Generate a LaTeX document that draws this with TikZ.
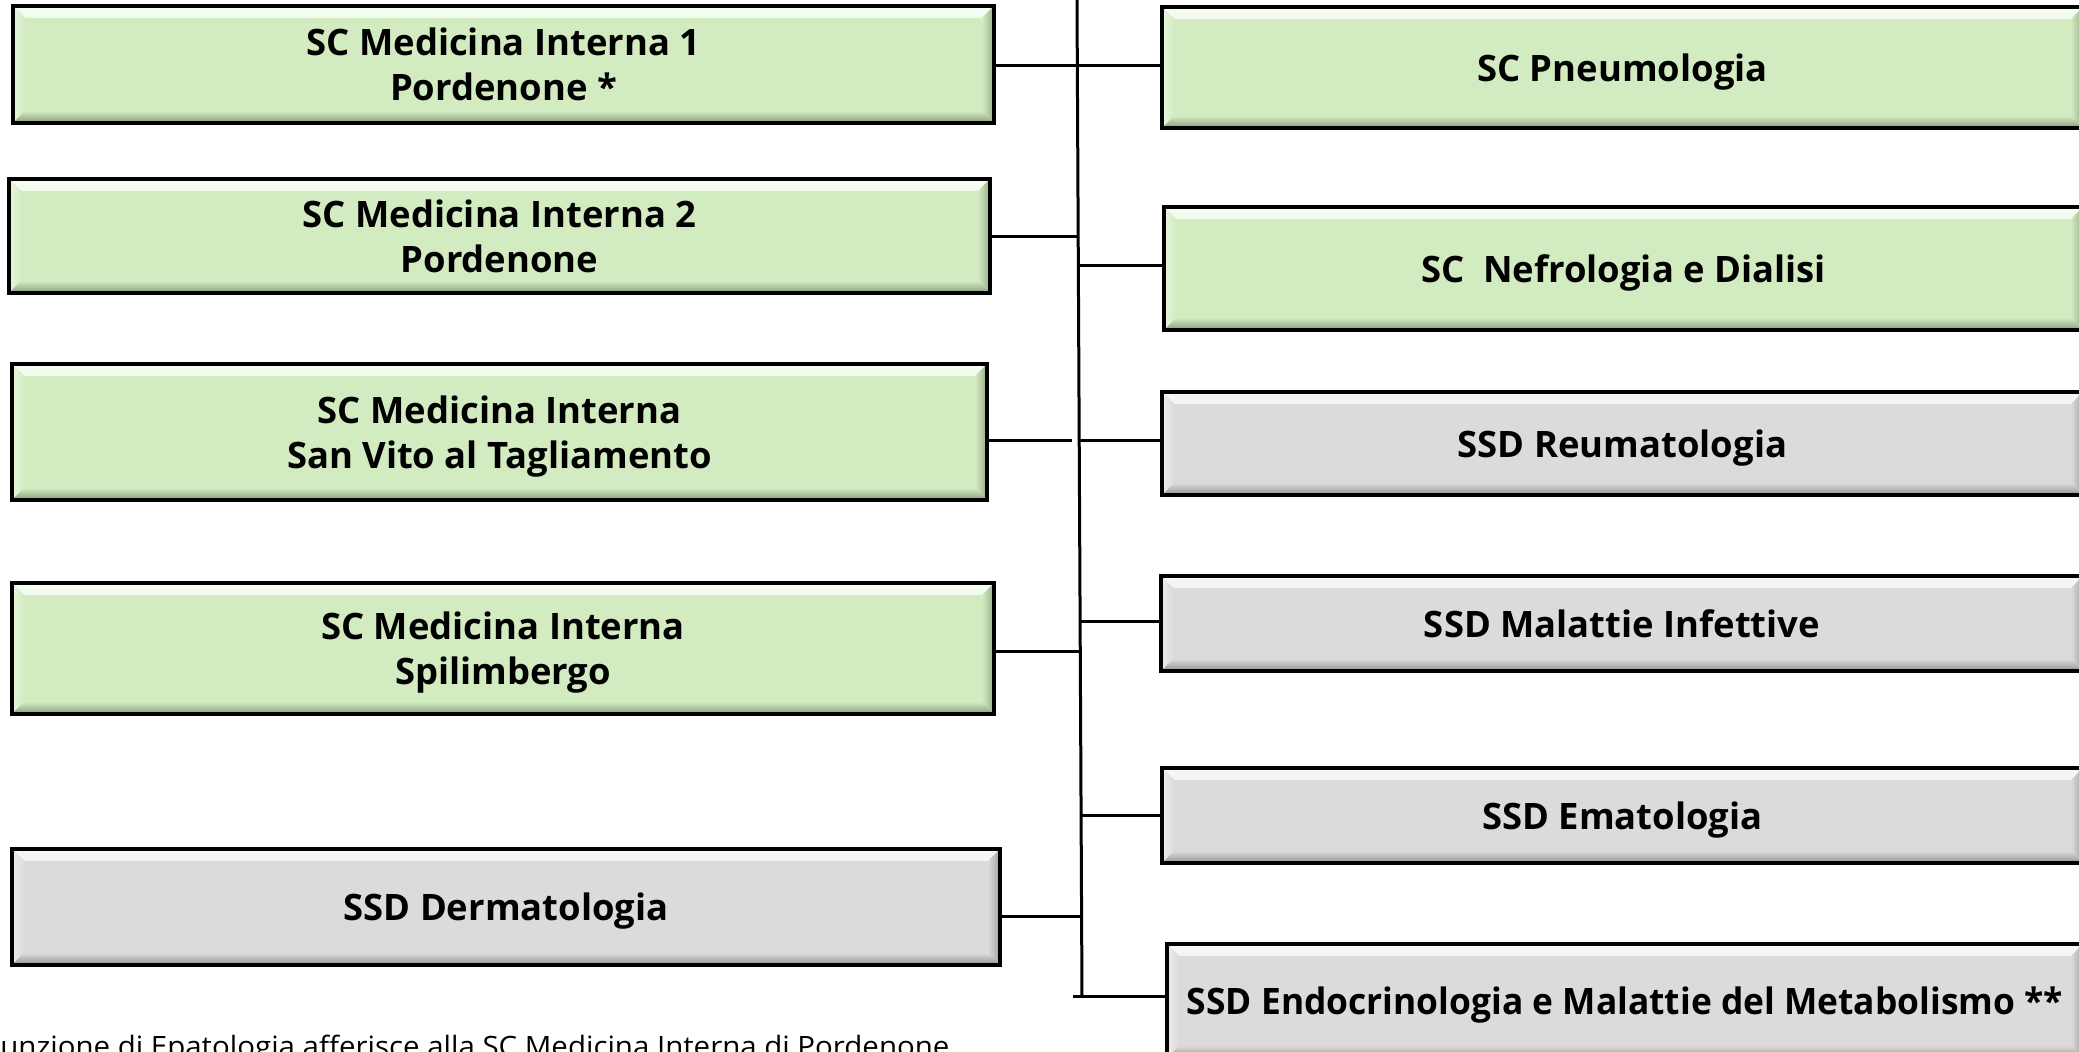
\documentclass[tikz,border=0pt]{standalone}
\usepackage{fontspec}
\usepackage{graphicx}
\newfontfamily\osans{Open Sans}
\definecolor{gfill}{HTML}{D2EBC0}
\definecolor{gtop}{HTML}{F6FCF2}
\definecolor{gleft}{HTML}{E8F6DF}
\definecolor{gright}{HTML}{98AC8A}
\definecolor{gbot}{HTML}{889B7B}
\definecolor{afill}{HTML}{DCDADB}
\definecolor{atop}{HTML}{F8F7F7}
\definecolor{aleft}{HTML}{EEEDED}
\definecolor{aright}{HTML}{A4A2A3}
\definecolor{abot}{HTML}{939192}
\tikzset{
  unit/.style n args={5}{draw=black, line width=2.2pt, fill=#1, inner sep=0pt, align=center,
    font=\osans\bfseries\fontsize{18.2pt}{22.5pt}\selectfont,
    path picture={
      \shade[top color=#2, bottom color=#1] (path picture bounding box.north west) -- (path picture bounding box.north east)
        -- ([shift={(-6pt,-6pt)}]path picture bounding box.north east)
        -- ([shift={(6pt,-6pt)}]path picture bounding box.north west) -- cycle;
      \shade[left color=#3, right color=#1] (path picture bounding box.north west) -- ([shift={(6pt,-6pt)}]path picture bounding box.north west)
        -- ([shift={(6pt,6pt)}]path picture bounding box.south west) -- (path picture bounding box.south west) -- cycle;
      \shade[left color=#1, right color=#4] (path picture bounding box.north east) -- ([shift={(-6pt,-6pt)}]path picture bounding box.north east)
        -- ([shift={(-6pt,6pt)}]path picture bounding box.south east) -- (path picture bounding box.south east) -- cycle;
      \shade[top color=#1, bottom color=#5] (path picture bounding box.south west) -- ([shift={(6pt,6pt)}]path picture bounding box.south west)
        -- ([shift={(-6pt,6pt)}]path picture bounding box.south east) -- (path picture bounding box.south east) -- cycle;
    }},
  greenbox/.style={unit={gfill}{gtop}{gleft}{gright}{gbot}},
  graybox/.style={unit={afill}{atop}{aleft}{aright}{abot}},
  oneline/.style={text depth=0pt},
  conn/.style={draw=black, line width=1.5pt},
}
\begin{document}
\begin{tikzpicture}[x=0.5pt, y=-0.5pt]
\useasboundingbox (0,0) rectangle (2079,1052);
\clip (0,0) rectangle (2079,1052);
\fill[white] (0,0) rectangle (2079,1052);

% trunk and junctions
\coordinate (ttop) at (1077,0);
\coordinate (tbot) at (1082,997);
\coordinate (j1) at (1077.3,66);
\coordinate (j2) at (1078.2,237);
\coordinate (j2r) at (1078.3,266);
\coordinate (g3) at (1072,441);
\coordinate (j3) at (1080,441);
\coordinate (j4r) at (1080.1,622);
\coordinate (j4) at (1080.3,652);
\coordinate (j5r) at (1081.1,816);
\coordinate (j5) at (1081.6,917);
\coordinate (s6) at (1073,997);

% left units
\node[greenbox, minimum width=490.5pt, minimum height=58.5pt] (l1) at (503.5,64.5) {SC Medicina Interna 1\\Pordenone *};
\node[greenbox, minimum width=490.5pt, minimum height=57pt] (l2) at (499.5,236) {SC Medicina Interna 2\\Pordenone};
\node[greenbox, oneline, minimum width=487.5pt, minimum height=68pt] (l3) at (499.5,432) {SC Medicina Interna\\San Vito al Tagliamento};
\node[greenbox, oneline, minimum width=491pt, minimum height=65.5pt] (l4) at (503,648.5) {SC Medicina Interna\\Spilimbergo};
\node[graybox, oneline, minimum width=494pt, minimum height=58pt] (l5) at (506,907) {SSD Dermatologia};

% right units
\node[greenbox, oneline, minimum width=460.5pt, minimum height=60.5pt] (r1) at (1622.5,67.5) {SC Pneumologia};
\node[greenbox, oneline, minimum width=459.5pt, minimum height=61.5pt] (r2) at (1623.5,268.5) {SC\ \ Nefrologia e Dialisi};
\node[graybox, oneline, minimum width=460.5pt, minimum height=51.5pt] (r3) at (1622.5,443.5) {SSD Reumatologia};
\node[graybox, oneline, minimum width=461pt, minimum height=47.5pt] (r4) at (1622,623.5) {SSD Malattie Infettive};
\node[graybox, oneline, minimum width=460.5pt, minimum height=47.5pt] (r5) at (1622.5,815.5) {SSD Ematologia};
\node[graybox, oneline, minimum width=458pt, minimum height=57pt] (r6) at (1625,1001) {\resizebox{438pt}{\height}{SSD Endocrinologia e Malattie del Metabolismo **}};

% connectors
\draw[conn] (ttop) -- (tbot);
\draw[conn] (j1 -| l1.east) -- (j1) -- (j1 -| r1.west);
\draw[conn] (j2 -| l2.east) -- (j2);
\draw[conn] (j2r) -- (j2r -| r2.west);
\draw[conn] (g3 -| l3.east) -- (g3);
\draw[conn] (j3) -- (j3 -| r3.west);
\draw[conn] (j4r) -- (j4r -| r4.west);
\draw[conn] (j4 -| l4.east) -- (j4);
\draw[conn] (j5r) -- (j5r -| r5.west);
\draw[conn] (j5 -| l5.east) -- (j5);
\draw[conn] (s6) -- (s6 -| r6.west);

% footnote (cut by the page edge, as in the reference)
\node[anchor=base west, inner sep=0pt, font=\osans\fontsize{14pt}{14pt}\selectfont] (note) at (0,1057)
  {\resizebox{474.5pt}{\height}{unzione di Epatologia afferisce alla SC Medicina Interna di Pordenone}};
\end{tikzpicture}
\end{document}
